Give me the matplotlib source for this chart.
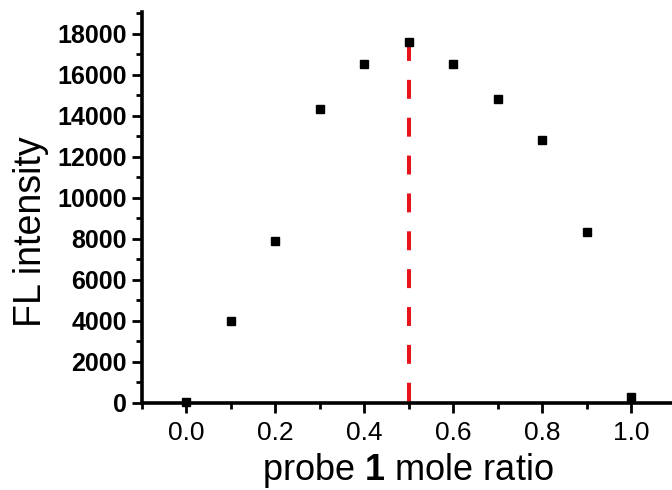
import matplotlib
matplotlib.use('Agg')
import matplotlib.pyplot as plt
from matplotlib.ticker import MultipleLocator

plt.rcParams['font.family'] = ['Liberation Sans', 'DejaVu Sans']
plt.rcParams['mathtext.fontset'] = 'custom'
plt.rcParams['mathtext.rm'] = 'Liberation Sans'
plt.rcParams['mathtext.bf'] = 'Liberation Sans:bold'

# mole ratio / FL intensity (Job plot)
ratio     = [0.0, 0.1, 0.2, 0.3, 0.4, 0.5, 0.6, 0.7, 0.8, 0.9, 1.0]
intensity = [50, 4000, 7900, 14340, 16540, 17610, 16540, 14830, 12830, 8340, 300]

x_max_point = 0.5
y_max_point = 17610

####################################################################################

W, H = 672, 490
fig = plt.figure(figsize=(W/100, H/100), dpi=100)
ax  = fig.add_axes([0.2113, 0.1776, 1.0 - 0.2113, 0.9755 - 0.1776])

#	ligne rouge au maximum
ax.plot([x_max_point, x_max_point], [y_max_point, 0],
	color='#e8141c', lw=2.9, linestyle=(0, (4.7, 4.7)), zorder=2, clip_on=False)

ax.plot(ratio, intensity, 's', color='black', markersize=6, zorder=3, clip_on=False)

ax.set_xlim(-0.1, 1.092)
ax.set_ylim(0, 19070)

ax.xaxis.set_minor_locator(MultipleLocator(0.1))
ax.yaxis.set_minor_locator(MultipleLocator(1000))
ax.set_xticks([0.0, 0.2, 0.4, 0.6, 0.8, 1.0])
ax.set_xticklabels(['0.0', '0.2', '0.4', '0.6', '0.8', '1.0'])
ax.set_yticks(range(0, 18001, 2000))

for s in ['top', 'right']:
	ax.spines[s].set_visible(False)
for s in ['left', 'bottom']:
	ax.spines[s].set_linewidth(2.6)

ax.tick_params(axis='both', which='major', direction='out', length=7, width=2.0)
ax.tick_params(axis='both', which='minor', direction='out', length=4, width=2.0)
ax.tick_params(axis='x', which='major', labelsize=19, pad=6)
ax.tick_params(axis='y', which='major', labelsize=18, pad=4)
for t in ax.get_yticklabels():
	t.set_fontweight('bold')

#	titres des axes
fig.text(408/W, 1 - 480/H, r'probe $\mathbf{1}$ mole ratio', fontsize=26,
	ha='center', va='baseline')
fig.text(31/W, 1 - 232/H, 'FL intensity', fontsize=27, rotation=90,
	ha='center', va='center')

fig.savefig('out.png', dpi=100)
